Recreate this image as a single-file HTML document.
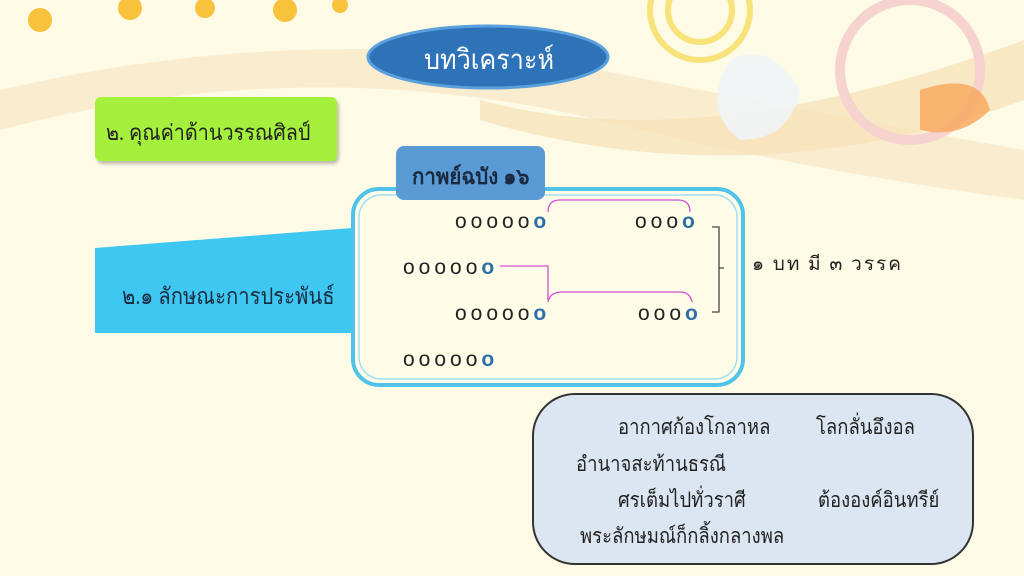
<!DOCTYPE html>
<html><head><meta charset="utf-8"><style>
body{margin:0;width:1024px;height:576px;overflow:hidden;background:#fdfae6;position:relative;font-family:"Liberation Serif","Noto Serif CJK SC","Noto Sans CJK SC",serif}
.a{position:absolute;white-space:nowrap;transform-origin:0 50%}
.o{font-family:"Liberation Sans",sans-serif;font-size:21px;letter-spacing:4px;color:#222}
.o b{color:#2e6fa8}
.t{font-size:21px;color:#222;transform:scaleX(0.88)}
</style></head><body>
<svg class="a" style="left:0;top:0" width="1024" height="576">
<path d="M0 90 Q300 20 600 70 Q800 110 1024 150 L1024 200 Q800 170 600 120 Q300 50 0 130Z" fill="#f8e7c4" opacity="0.7"/>
<path d="M480 100 Q700 160 1024 40 L1024 100 Q750 200 480 120Z" fill="#f6dfb5" opacity="0.7"/>
<circle cx="700" cy="10" r="50" fill="none" stroke="#f7e37a" stroke-width="6"/>
<circle cx="700" cy="10" r="32" fill="none" stroke="#f7e37a" stroke-width="6"/>
<circle cx="910" cy="70" r="70" fill="none" stroke="#f6d3cf" stroke-width="10"/>
<g fill="#f9c23c"><circle cx="40" cy="20" r="12"/><circle cx="130" cy="8" r="12"/><circle cx="205" cy="8" r="10"/><circle cx="285" cy="10" r="12"/><circle cx="340" cy="5" r="8"/></g>
<path d="M730 60 Q770 40 800 90 Q790 140 740 140 Q700 110 730 60Z" fill="#eef4f6" opacity="0.9"/>
<path d="M920 90 Q980 70 990 110 Q960 140 920 130Z" fill="#f7a65a" opacity="0.8"/>
<path d="M95 248 L352 228 L352 333 L95 333Z" fill="#3ec7f0"/>
<rect x="353" y="189" width="390" height="196" rx="26" fill="#fffce8" stroke="#4fc3e8" stroke-width="4"/>
<rect x="359" y="195" width="378" height="184" rx="22" fill="none" stroke="#9fe0f4" stroke-width="1.5"/>
<g fill="none" stroke="#d24fd2" stroke-width="1.3">
<path d="M548 212 Q548 200 560 200 L678 200 Q690 200 690 212"/>
<path d="M500 266 L548 266 L548 300"/>
<path d="M548 302 Q550 292 562 292 L680 292 Q690 292 692 302"/>
</g>
<path d="M712 227 L719 227 L719 312 L712 312 M719 268 L724 268" fill="none" stroke="#444" stroke-width="1.3"/>
<ellipse cx="488" cy="57" rx="120" ry="31" fill="#2e73b8" stroke="#5aa0dc" stroke-width="3"/>
<rect x="533" y="394" width="440" height="170" rx="42" fill="#dce6f2" stroke="#333" stroke-width="2"/>
</svg>
<div class="a" style="left:424px;top:38px;font-size:28px;color:#fff;transform:scaleX(0.9)">บทวิเคราะห์</div>
<div class="a" style="left:95px;top:97px;width:242px;height:64px;background:#a4f03c;border-radius:6px;box-shadow:2px 3px 3px rgba(0,0,0,.25)"></div>
<div class="a" style="left:106px;top:115px;font-size:22px;color:#222;transform:scaleX(0.9)">๒. คุณค่าด้านวรรณศิลป์</div>
<div class="a" style="left:396px;top:146px;width:149px;height:54px;background:#5b9bd5;border-radius:8px"></div>
<div class="a" style="left:412px;top:159px;font-size:22px;font-weight:bold;color:#1a2a40;transform:scaleX(0.93)">กาพย์ฉบัง ๑๖</div>
<div class="a" style="left:122px;top:279px;font-size:23px;color:#1a2a40;transform:scaleX(0.88)">๒.๑ ลักษณะการประพันธ์</div>
<div class="a o" style="left:455px;top:210px">ooooo<b>o</b></div>
<div class="a o" style="left:635px;top:210px">ooo<b>o</b></div>
<div class="a o" style="left:403px;top:256px">ooooo<b>o</b></div>
<div class="a o" style="left:455px;top:302px">ooooo<b>o</b></div>
<div class="a o" style="left:638px;top:302px">ooo<b>o</b></div>
<div class="a o" style="left:403px;top:348px">ooooo<b>o</b></div>
<div class="a" style="left:752px;top:249px;font-size:19px;letter-spacing:2px;color:#222">๑ บท มี ๓ วรรค</div>
<div class="a t" style="left:618px;top:411px">อากาศก้องโกลาหล</div>
<div class="a t" style="left:816px;top:411px">โลกลั่นอึงอล</div>
<div class="a t" style="left:576px;top:448px">อำนาจสะท้านธรณี</div>
<div class="a t" style="left:618px;top:484px">ศรเต็มไปทั่วราศี</div>
<div class="a t" style="left:818px;top:484px">ต้ององค์อินทรีย์</div>
<div class="a t" style="left:580px;top:520px">พระลักษมณ์ก็กลิ้งกลางพล</div>
</body></html>
